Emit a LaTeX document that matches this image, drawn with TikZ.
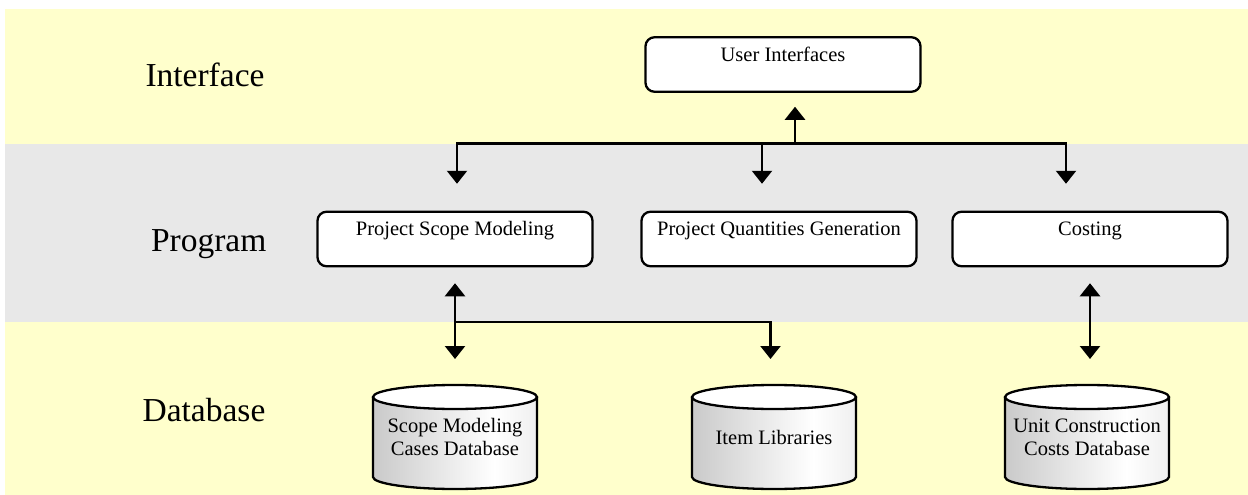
\documentclass[tikz,border=0pt]{standalone}
\usepackage{fontspec}
\setmainfont{Liberation Serif}
\usetikzlibrary{positioning, calc, arrows.meta}
\definecolor{bandyellow}{HTML}{FFFFCC}
\definecolor{bandgray}{HTML}{E8E8E8}
\pgfdeclarehorizontalshading{dbshade}{100bp}{color(0bp)=(black!35); color(62bp)=(white); color(100bp)=(black!18)}

\begin{document}
\begin{tikzpicture}[x=1pt, y=-1pt,
  modbox/.style={draw, rectangle, rounded corners=9pt, fill=white, line width=2.3pt, outer sep=0pt,
    minimum width=275pt, minimum height=54.5pt, inner ysep=0pt, text height=24pt, text depth=30.5pt,
    font=\fontsize{20.5}{22.7}\selectfont},
  dbbody/.style={rectangle, shade, shading=dbshade, minimum width=164pt, minimum height=80pt,
    inner sep=0pt, outer sep=0pt, align=center, font=\fontsize{20.5}{22.7}\selectfont},
  dbline/.style={line width=2.3pt},
  layerlbl/.style={anchor=base, font=\fontsize{33.5}{40}\selectfont},
  arr/.style={-{Triangle[width=20pt, length=13pt]}, line width=2.3pt},
  arr2/.style={{Triangle[width=20pt, length=13pt]}-{Triangle[width=20pt, length=13pt]}, line width=2.3pt}]
\useasboundingbox (0,0) rectangle (1248,495);
\fill[white] (0,0) rectangle (1248,495);

% Layer bands
\fill[bandyellow] (5,9.5) rectangle (1248,143.5);
\fill[bandgray] (5,143.5) rectangle (1248,322);
\fill[bandyellow] (5,322) rectangle (1248,495);

% Layer names
\node[layerlbl] (iface) at (205,86.7) {Interface};
\node[layerlbl] (prog) at (208.7,251.7) {Program};
\node[layerlbl] (dbase) at (204,421) {Database};

% Interface layer
\node[modbox] (ui) at (783,64.5) {User Interfaces};

% Program modules
\node[modbox] (scope) at (455,239) {Project Scope Modeling};
\node[modbox, right=49pt of scope] (quant) {Project Quantities Generation};
\node[modbox, right=36pt of quant] (costing) {Costing};

% Databases
\node[dbbody] (scopedb) at (455,437) {Scope Modeling\\Cases Database};
\node[dbbody] (itemdb) at (774,437) {Item Libraries};
\node[dbbody] (unitdb) at (1087,437) {Unit Construction\\Costs Database};

\shade[shading=dbshade] (scopedb.south west) arc[start angle=180, end angle=360, x radius=82pt, y radius=12pt] -- cycle;
\draw[dbline] (scopedb.north west) -- (scopedb.south west) arc[start angle=180, end angle=360, x radius=82pt, y radius=12pt] -- (scopedb.north east);
\draw[dbline, fill=white] (scopedb.north) ellipse [x radius=82pt, y radius=12pt];

\shade[shading=dbshade] (itemdb.south west) arc[start angle=180, end angle=360, x radius=82pt, y radius=12pt] -- cycle;
\draw[dbline] (itemdb.north west) -- (itemdb.south west) arc[start angle=180, end angle=360, x radius=82pt, y radius=12pt] -- (itemdb.north east);
\draw[dbline, fill=white] (itemdb.north) ellipse [x radius=82pt, y radius=12pt];

\shade[shading=dbshade] (unitdb.south west) arc[start angle=180, end angle=360, x radius=82pt, y radius=12pt] -- cycle;
\draw[dbline] (unitdb.north west) -- (unitdb.south west) arc[start angle=180, end angle=360, x radius=82pt, y radius=12pt] -- (unitdb.north east);
\draw[dbline, fill=white] (unitdb.north) ellipse [x radius=82pt, y radius=12pt];

% Connections
\coordinate (topbus) at (795,143.5);
\coordinate (busA) at (457,143.5);
\coordinate (busB) at (762,143.5);
\coordinate (busC) at (1066,143.5);
\coordinate (lowbus) at (455,322);
\coordinate (lowbusR) at (770.5,322);

\draw[arr, shorten >=15pt] (topbus) -- (topbus |- ui.south);
\draw[arr2, shorten <=28pt, shorten >=28pt] (busA |- scope.north) -- (busA) -- (busC) -- (busC |- costing.north);
\draw[arr, shorten >=28pt] (busB) -- (busB |- quant.north);
\draw[arr2, shorten <=17pt, shorten >=38pt] (scope.south) -- (scope.south |- scopedb.north);
\draw[arr, shorten >=38pt] (lowbus) -- (lowbusR) -- (lowbusR |- itemdb.north);
\draw[arr2, shorten <=17pt, shorten >=38pt] (costing.south) -- (costing.south |- unitdb.north);
\end{tikzpicture}
\end{document}
